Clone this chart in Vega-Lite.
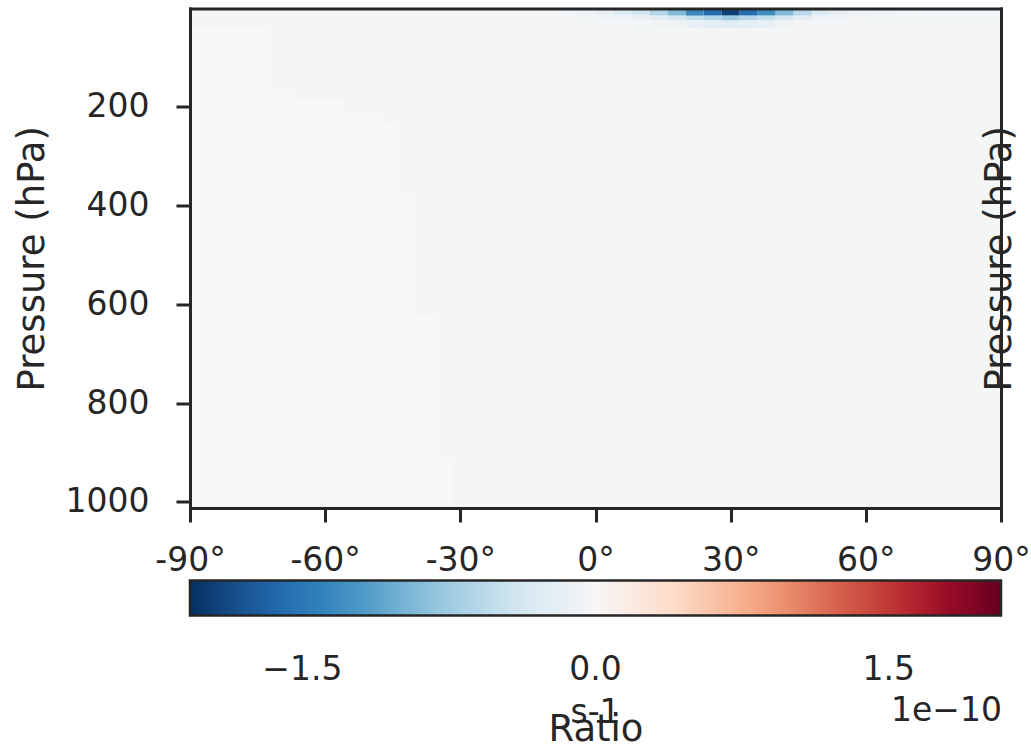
{
  "$schema": "https://vega.github.io/schema/vega-lite/v6.json",
  "width": 811,
  "height": 499.5,
  "autosize": "none",
  "padding": {"left": 190, "top": 8.5, "right": 30, "bottom": 245},
  "background": "white",
  "config": {
    "font": "DejaVu Sans",
    "view": {"stroke": null},
    "axis": {"labelColor": "#262626", "titleColor": "#262626", "tickColor": "#262626", "domainColor": "#262626", "labelFont": "DejaVu Sans", "titleFont": "DejaVu Sans"},
    "legend": {"labelFont": "DejaVu Sans", "titleFont": "DejaVu Sans"},
    "title": {"font": "DejaVu Sans"}
  },
  "title": {"text": "s-1", "orient": "bottom", "anchor": "middle", "frame": "group", "fontSize": 33, "fontWeight": "normal", "color": "#262626", "baseline": "alphabetic", "offset": -24},
  "data": {"values": [
    {"lat0": -90, "lat1": -8, "p0": 0.5, "p1": 40, "v": -3e-12},
    {"lat0": -8, "lat1": -4, "p0": 0.5, "p1": 15, "v": -7e-12},
    {"lat0": -4, "lat1": 0, "p0": 0.5, "p1": 15, "v": -1.2e-11},
    {"lat0": 0, "lat1": 4, "p0": 0.5, "p1": 15, "v": -1.8e-11},
    {"lat0": 4, "lat1": 8, "p0": 0.5, "p1": 15, "v": -2.8e-11},
    {"lat0": 8, "lat1": 12, "p0": 0.5, "p1": 15, "v": -4.2e-11},
    {"lat0": 12, "lat1": 16, "p0": 0.5, "p1": 15, "v": -6.2e-11},
    {"lat0": 16, "lat1": 20, "p0": 0.5, "p1": 15, "v": -9.2e-11},
    {"lat0": 20, "lat1": 24, "p0": 0.5, "p1": 15, "v": -1.35e-10},
    {"lat0": 24, "lat1": 28, "p0": 0.5, "p1": 15, "v": -1.6e-10},
    {"lat0": 28, "lat1": 32, "p0": 0.5, "p1": 15, "v": -1.95e-10},
    {"lat0": 32, "lat1": 36, "p0": 0.5, "p1": 15, "v": -1.6e-10},
    {"lat0": 36, "lat1": 40, "p0": 0.5, "p1": 15, "v": -1.3e-10},
    {"lat0": 40, "lat1": 44, "p0": 0.5, "p1": 15, "v": -9.2e-11},
    {"lat0": 44, "lat1": 48, "p0": 0.5, "p1": 15, "v": -5.8e-11},
    {"lat0": 48, "lat1": 52, "p0": 0.5, "p1": 15, "v": -3e-11},
    {"lat0": 52, "lat1": 56, "p0": 0.5, "p1": 15, "v": -1.8e-11},
    {"lat0": 56, "lat1": 60, "p0": 0.5, "p1": 15, "v": -1.2e-11},
    {"lat0": 60, "lat1": 64, "p0": 0.5, "p1": 15, "v": -1e-11},
    {"lat0": 64, "lat1": 68, "p0": 0.5, "p1": 15, "v": -9e-12},
    {"lat0": 68, "lat1": 72, "p0": 0.5, "p1": 15, "v": -8e-12},
    {"lat0": 72, "lat1": 76, "p0": 0.5, "p1": 15, "v": -8e-12},
    {"lat0": 76, "lat1": 80, "p0": 0.5, "p1": 15, "v": -8e-12},
    {"lat0": 80, "lat1": 84, "p0": 0.5, "p1": 15, "v": -8e-12},
    {"lat0": 84, "lat1": 88, "p0": 0.5, "p1": 15, "v": -8e-12},
    {"lat0": 88, "lat1": 90, "p0": 0.5, "p1": 15, "v": -8e-12},
    {"lat0": -8, "lat1": -4, "p0": 15, "p1": 25, "v": -4e-12},
    {"lat0": -4, "lat1": 0, "p0": 15, "p1": 25, "v": -5e-12},
    {"lat0": 0, "lat1": 4, "p0": 15, "p1": 25, "v": -7e-12},
    {"lat0": 4, "lat1": 8, "p0": 15, "p1": 25, "v": -1e-11},
    {"lat0": 8, "lat1": 12, "p0": 15, "p1": 25, "v": -1.5e-11},
    {"lat0": 12, "lat1": 16, "p0": 15, "p1": 25, "v": -2.2e-11},
    {"lat0": 16, "lat1": 20, "p0": 15, "p1": 25, "v": -3.5e-11},
    {"lat0": 20, "lat1": 24, "p0": 15, "p1": 25, "v": -5e-11},
    {"lat0": 24, "lat1": 28, "p0": 15, "p1": 25, "v": -6.2e-11},
    {"lat0": 28, "lat1": 32, "p0": 15, "p1": 25, "v": -7.5e-11},
    {"lat0": 32, "lat1": 36, "p0": 15, "p1": 25, "v": -6.2e-11},
    {"lat0": 36, "lat1": 40, "p0": 15, "p1": 25, "v": -5e-11},
    {"lat0": 40, "lat1": 44, "p0": 15, "p1": 25, "v": -3.5e-11},
    {"lat0": 44, "lat1": 48, "p0": 15, "p1": 25, "v": -2.2e-11},
    {"lat0": 48, "lat1": 52, "p0": 15, "p1": 25, "v": -1.2e-11},
    {"lat0": 52, "lat1": 56, "p0": 15, "p1": 25, "v": -8e-12},
    {"lat0": 56, "lat1": 60, "p0": 15, "p1": 25, "v": -6e-12},
    {"lat0": 60, "lat1": 64, "p0": 15, "p1": 25, "v": -5e-12},
    {"lat0": 64, "lat1": 68, "p0": 15, "p1": 25, "v": -5e-12},
    {"lat0": 68, "lat1": 72, "p0": 15, "p1": 25, "v": -5e-12},
    {"lat0": 72, "lat1": 76, "p0": 15, "p1": 25, "v": -5e-12},
    {"lat0": 76, "lat1": 80, "p0": 15, "p1": 25, "v": -5e-12},
    {"lat0": 80, "lat1": 84, "p0": 15, "p1": 25, "v": -5e-12},
    {"lat0": 84, "lat1": 88, "p0": 15, "p1": 25, "v": -5e-12},
    {"lat0": 88, "lat1": 90, "p0": 15, "p1": 25, "v": -5e-12},
    {"lat0": -8, "lat1": -4, "p0": 25, "p1": 40, "v": -4e-12},
    {"lat0": -4, "lat1": 0, "p0": 25, "p1": 40, "v": -4e-12},
    {"lat0": 0, "lat1": 4, "p0": 25, "p1": 40, "v": -4e-12},
    {"lat0": 4, "lat1": 8, "p0": 25, "p1": 40, "v": -4e-12},
    {"lat0": 8, "lat1": 12, "p0": 25, "p1": 40, "v": -5e-12},
    {"lat0": 12, "lat1": 16, "p0": 25, "p1": 40, "v": -7e-12},
    {"lat0": 16, "lat1": 20, "p0": 25, "p1": 40, "v": -1e-11},
    {"lat0": 20, "lat1": 24, "p0": 25, "p1": 40, "v": -1.5e-11},
    {"lat0": 24, "lat1": 28, "p0": 25, "p1": 40, "v": -2e-11},
    {"lat0": 28, "lat1": 32, "p0": 25, "p1": 40, "v": -2.4e-11},
    {"lat0": 32, "lat1": 36, "p0": 25, "p1": 40, "v": -2e-11},
    {"lat0": 36, "lat1": 40, "p0": 25, "p1": 40, "v": -1.5e-11},
    {"lat0": 40, "lat1": 44, "p0": 25, "p1": 40, "v": -1e-11},
    {"lat0": 44, "lat1": 48, "p0": 25, "p1": 40, "v": -6e-12},
    {"lat0": 48, "lat1": 52, "p0": 25, "p1": 40, "v": -4e-12},
    {"lat0": 52, "lat1": 56, "p0": 25, "p1": 40, "v": -4e-12},
    {"lat0": 56, "lat1": 60, "p0": 25, "p1": 40, "v": -4e-12},
    {"lat0": 60, "lat1": 64, "p0": 25, "p1": 40, "v": -4e-12},
    {"lat0": 64, "lat1": 68, "p0": 25, "p1": 40, "v": -4e-12},
    {"lat0": 68, "lat1": 72, "p0": 25, "p1": 40, "v": -4e-12},
    {"lat0": 72, "lat1": 76, "p0": 25, "p1": 40, "v": -4e-12},
    {"lat0": 76, "lat1": 80, "p0": 25, "p1": 40, "v": -4e-12},
    {"lat0": 80, "lat1": 84, "p0": 25, "p1": 40, "v": -4e-12},
    {"lat0": 84, "lat1": 88, "p0": 25, "p1": 40, "v": -4e-12},
    {"lat0": 88, "lat1": 90, "p0": 25, "p1": 40, "v": -4e-12},
    {"lat0": -90, "lat1": -72, "p0": 40, "p1": 162.5, "v": 0},
    {"lat0": -90, "lat1": -68, "p0": 162.5, "p1": 187.5, "v": 0},
    {"lat0": -90, "lat1": -56, "p0": 187.5, "p1": 212.5, "v": 0},
    {"lat0": -90, "lat1": -48, "p0": 212.5, "p1": 237.5, "v": 0},
    {"lat0": -90, "lat1": -44, "p0": 237.5, "p1": 375, "v": 0},
    {"lat0": -90, "lat1": -40, "p0": 375, "p1": 625, "v": 0},
    {"lat0": -90, "lat1": -36, "p0": 625, "p1": 912.5, "v": 0},
    {"lat0": -90, "lat1": -32, "p0": 912.5, "p1": 1012.5, "v": 0},
    {"lat0": -72, "lat1": 90, "p0": 40, "p1": 162.5, "v": -3e-12},
    {"lat0": -68, "lat1": 90, "p0": 162.5, "p1": 187.5, "v": -3e-12},
    {"lat0": -56, "lat1": 90, "p0": 187.5, "p1": 212.5, "v": -3e-12},
    {"lat0": -48, "lat1": 90, "p0": 212.5, "p1": 237.5, "v": -3e-12},
    {"lat0": -44, "lat1": 90, "p0": 237.5, "p1": 375, "v": -3e-12},
    {"lat0": -40, "lat1": 90, "p0": 375, "p1": 625, "v": -3e-12},
    {"lat0": -36, "lat1": 90, "p0": 625, "p1": 912.5, "v": -3e-12},
    {"lat0": -32, "lat1": 90, "p0": 912.5, "p1": 1012.5, "v": -3e-12}
  ]},
  "layer": [
    {
      "mark": {"type": "rect"},
      "encoding": {
        "x": {"field": "lat0", "type": "quantitative", "scale": {"domain": [-90, 90], "nice": false, "zero": false},
          "axis": {"orient": "bottom", "values": [-90, -60, -30, 0, 30, 60, 90], "labelExpr": "datum.value + '°'", "labelFlush": false, "labelOverlap": false, "grid": false, "domain": true, "domainWidth": 3, "domainCap": "square", "ticks": true, "tickSize": 14, "tickWidth": 3, "labelFontSize": 33, "labelPadding": 22, "title": "Ratio", "titleFontSize": 37, "titleFontWeight": "normal", "titleBaseline": "alphabetic", "titleY": 232, "zindex": 1}},
        "x2": {"field": "lat1"},
        "y": {"field": "p0", "type": "quantitative", "scale": {"domain": [0.5, 1012.5], "reverse": true, "nice": false, "zero": false},
          "axis": {"orient": "left", "values": [200, 400, 600, 800, 1000], "format": "d", "labelFlush": false, "labelOverlap": false, "grid": false, "domain": true, "domainWidth": 3, "domainCap": "square", "tickSize": 14, "tickWidth": 3, "labelFontSize": 33, "labelPadding": 27, "title": "Pressure (hPa)", "titleFontSize": 37, "titleFontWeight": "normal", "titleAngle": 270, "titleBaseline": "alphabetic", "titleX": -147, "zindex": 1}},
        "y2": {"field": "p1"},
        "color": {"field": "v", "type": "quantitative",
          "scale": {"domain": [-2.075e-10, -1.66e-10, -1.245e-10, -8.3e-11, -4.15e-11, 0, 4.15e-11, 8.3e-11, 1.245e-10, 1.66e-10, 2.075e-10],
                    "range": ["#053061", "#2166ac", "#4393c3", "#92c5de", "#d1e5f0", "#f7f7f7", "#fddbc7", "#f4a582", "#d6604d", "#b2182b", "#67001f"]},
          "legend": {"orient": "none", "legendX": 0, "legendY": 572, "direction": "horizontal", "padding": 0,
            "gradientLength": 811, "gradientThickness": 35, "gradientStrokeColor": "#262626", "gradientStrokeWidth": 2.5,
            "values": [-1.5e-10, 0, 1.5e-10],
            "labelExpr": "datum.value < 0 ? '−' + format(-datum.value * 1e10, '.1f') : format(datum.value * 1e10, '.1f')",
            "labelFontSize": 33, "labelColor": "#262626", "labelOffset": 38, "labelOverlap": false,
            "title": "1e−10", "titleOrient": "bottom", "titleAnchor": "end", "titleFontSize": 33, "titleFontWeight": "normal", "titleColor": "#262626", "titlePadding": 8}}
      }
    },
    {
      "mark": {"type": "rect", "opacity": 0},
      "encoding": {
        "x": {"field": "lat0", "type": "quantitative", "scale": {"domain": [-90, 90], "nice": false, "zero": false},
          "axis": {"orient": "top", "labels": false, "ticks": false, "grid": false, "domain": true, "domainWidth": 3, "domainCap": "square", "title": null, "zindex": 1}},
        "x2": {"field": "lat1"},
        "y": {"field": "p0", "type": "quantitative", "scale": {"domain": [0.5, 1012.5], "reverse": true, "nice": false, "zero": false},
          "axis": {"orient": "right", "labels": false, "ticks": false, "grid": false, "domain": true, "domainWidth": 3, "domainCap": "square", "title": "Pressure (hPa)", "titleFontSize": 37, "titleFontWeight": "normal", "titleAngle": 270, "titleBaseline": "alphabetic", "titlePadding": 9, "zindex": 1}},
        "y2": {"field": "p1"}
      }
    }
  ],
  "resolve": {"scale": {"x": "independent", "y": "independent"}, "axis": {"x": "independent", "y": "independent"}}
}
